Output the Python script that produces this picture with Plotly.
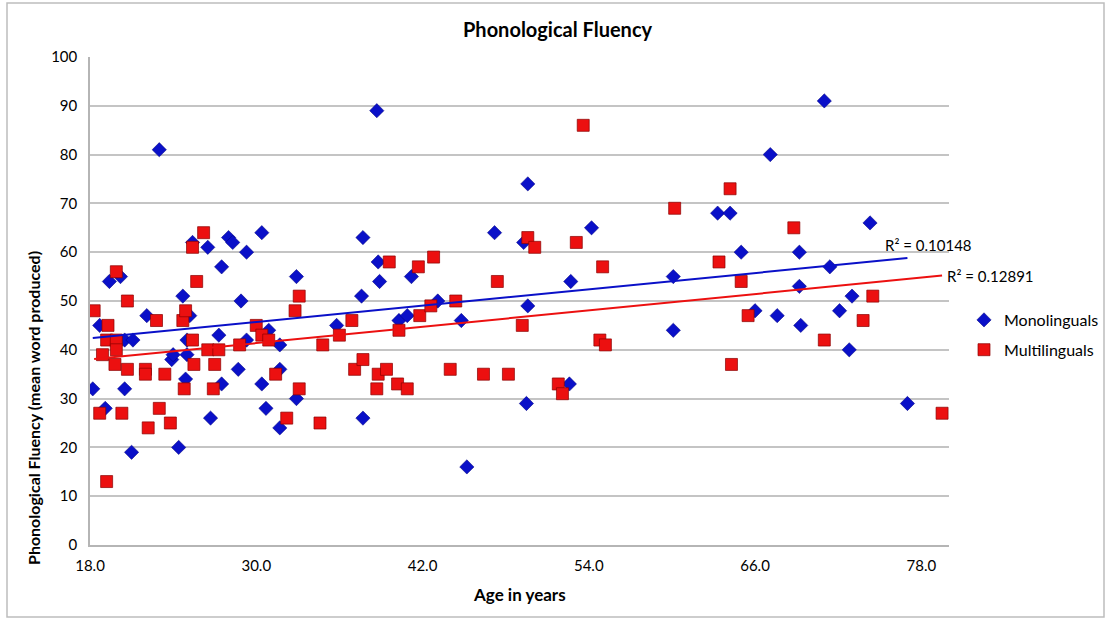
import plotly.graph_objects as go

# ---------------- data ----------------
mono_age = [18.2, 18.7, 19.1, 19.4, 20.2, 20.5, 20.5, 21.0, 21.1, 22.1, 23.0, 23.9, 24.0,
            24.4, 24.7, 24.9, 25.0, 25.0, 25.2, 25.4, 26.5, 26.7, 27.3, 27.5, 27.5, 28.0,
            28.3, 28.7, 28.9, 29.3, 29.3, 30.4, 30.4, 30.7, 30.9, 31.7, 31.7, 31.7, 32.9,
            32.9, 35.8, 37.7, 37.6, 37.7, 38.7, 38.8, 38.9, 40.3, 40.9, 41.2, 43.1, 44.8,
            45.2, 47.2, 49.3, 49.6, 49.6, 49.5, 52.7, 52.6, 54.2, 60.1, 60.1, 63.3, 64.2,
            65.0, 66.0, 67.1, 67.6, 69.2, 69.2, 69.3, 71.0, 71.4, 72.1, 72.8, 73.0, 74.3, 77.0]
mono_val = [32, 45, 28, 54, 55, 42, 32, 19, 42, 47, 81, 38, 39,
            20, 51, 34, 39, 42, 47, 62, 61, 26, 43, 57, 33, 63,
            62, 36, 50, 60, 42, 64, 33, 28, 44, 24, 41, 36, 30,
            55, 45, 63, 51, 26, 89, 58, 54, 46, 47, 55, 50, 46,
            16, 64, 62, 74, 49, 29, 54, 33, 65, 55, 44, 68, 68,
            60, 48, 80, 47, 60, 53, 45, 91, 57, 48, 40, 51, 66, 29]

multi_age = [18.3, 18.7, 18.9, 19.2, 19.2, 19.3, 19.8, 19.9, 19.9, 19.9, 20.3, 20.7, 20.7,
             22.0, 22.0, 22.2, 22.8, 23.0, 23.4, 23.8, 24.7, 24.8, 24.9, 25.4, 25.4, 25.5,
             25.7, 26.2, 26.5, 26.9, 27.0, 27.3, 28.8, 30.0, 30.4, 30.9, 31.4, 32.2, 32.8,
             33.1, 33.1, 34.6, 34.8, 36.0, 36.9, 37.1, 37.7, 38.7, 38.8, 39.4, 39.6, 40.2,
             40.3, 40.9, 41.7, 41.8, 42.6, 42.8, 44.0, 44.4, 46.4, 47.4, 48.2, 49.2, 49.6,
             50.1, 51.8, 52.1, 53.1, 53.6, 54.8, 55.0, 55.2, 60.2, 63.4, 64.2, 64.3, 65.0,
             65.5, 68.8, 71.0, 73.8, 74.5, 79.5]
multi_val = [48, 27, 39, 13, 42, 45, 37, 56, 42, 40, 27, 50, 36,
             36, 35, 24, 46, 28, 35, 25, 46, 32, 48, 61, 42, 37,
             54, 64, 40, 32, 37, 40, 41, 45, 43, 42, 35, 26, 48,
             51, 32, 25, 41, 43, 46, 36, 38, 32, 35, 36, 58, 33,
             44, 32, 57, 47, 49, 59, 36, 50, 35, 54, 35, 45, 63,
             61, 33, 31, 62, 86, 42, 57, 41, 69, 58, 73, 37, 54,
             47, 65, 42, 46, 51, 27]

# linear trendline end values (read at the first/last age of each series)
mono_trend_val = [42.4, 58.8]
multi_trend_val = [38.1, 55.2]
mono_r2 = "R² = 0.10148"
multi_r2 = "R² = 0.12891"

x_ticks = [18, 30, 42, 54, 66, 78]
x_tick_text = ["18.0", "30.0", "42.0", "54.0", "66.0", "78.0"]

BLUE = "#0a10c8"
RED = "#ec1010"
FONT = "Lato"

# plot area in pixels: x 90..949, y 57..545
L, R, T, B = 90, 949, 57, 545
W, H = R - L, B - T


def px_x(p):
    return (p - L) / W


def px_y(p):
    return (B - p) / H


fig = go.Figure()

fig.add_trace(go.Scatter(
    x=mono_age, y=mono_val, mode="markers", name="Monolinguals",
    legendgroup="a",
    marker=dict(symbol="diamond", size=11, color=BLUE,
                line=dict(color="#00007a", width=0.5)),
))
fig.add_trace(go.Scatter(
    x=multi_age, y=multi_val, mode="markers", name="Multilinguals",
    legendgroup="b",
    marker=dict(symbol="square", size=12, color=RED,
                line=dict(color="#8a0000", width=0.7)),
))
fig.add_trace(go.Scatter(
    x=[min(mono_age), max(mono_age)], y=mono_trend_val, mode="lines",
    line=dict(color=BLUE, width=2), showlegend=False, hoverinfo="skip",
))
fig.add_trace(go.Scatter(
    x=[min(multi_age), max(multi_age)], y=multi_trend_val, mode="lines",
    line=dict(color=RED, width=2), showlegend=False, hoverinfo="skip",
))

annotations = [
    dict(text="<b>Phonological Fluency</b>", xref="paper", yref="paper",
         x=px_x(558), y=px_y(29), xanchor="center", yanchor="middle", showarrow=False,
         font=dict(size=20, color="black", family=FONT)),
    dict(text="<b>Age in years</b>", xref="paper", yref="paper",
         x=px_x(519), y=px_y(594), xanchor="center", yanchor="middle", showarrow=False,
         font=dict(size=17, color="black", family=FONT)),
    dict(text="<b>Phonological Fluency (mean word produced)</b>", xref="paper", yref="paper",
         x=px_x(33), y=px_y(567), textangle=-90, xanchor="center", yanchor="bottom",
         showarrow=False, font=dict(size=16, color="black", family=FONT)),
    dict(text=mono_r2, x=max(mono_age), y=mono_trend_val[1], xref="x", yref="y",
         xanchor="left", yanchor="bottom", xshift=-24, yshift=2, showarrow=False,
         font=dict(size=15, color="black", family=FONT)),
    dict(text=multi_r2, x=max(multi_age), y=multi_trend_val[1], xref="x", yref="y",
         xanchor="left", yanchor="middle", xshift=3, showarrow=False,
         font=dict(size=15, color="black", family=FONT)),
]

fig.update_layout(
    width=1107, height=619,
    margin=dict(l=L, r=1107 - R, t=T, b=619 - B, autoexpand=False),
    paper_bgcolor="white", plot_bgcolor="white",
    font=dict(family=FONT, size=14, color="black"),
    showlegend=True,
    legend=dict(x=px_x(964), y=px_y(303), xanchor="left", yanchor="top",
                font=dict(size=16, family=FONT), tracegroupgap=6,
                itemwidth=30, itemsizing="trace", bgcolor="rgba(0,0,0,0)"),
    annotations=annotations,
    shapes=[dict(type="rect", xref="paper", yref="paper",
                 x0=px_x(7), x1=px_x(1104), y0=px_y(617), y1=px_y(3),
                 line=dict(color="#bdbdbd", width=1.5), layer="below")],
)

fig.update_xaxes(range=[18, 80], tickvals=x_ticks, ticktext=x_tick_text,
                 showgrid=False, zeroline=False, showline=True, linecolor="#b5b5b5",
                 linewidth=1.5, ticks="", tickfont=dict(size=15), ticklabelstandoff=6)
fig.update_yaxes(range=[0, 100], dtick=10, showgrid=True, gridcolor="#c4c4c4",
                 gridwidth=1.5, zeroline=False, showline=True, linecolor="#b5b5b5",
                 linewidth=1.5, ticks="", tickfont=dict(size=15), ticklabelstandoff=8)

fig.write_html("out.html")
